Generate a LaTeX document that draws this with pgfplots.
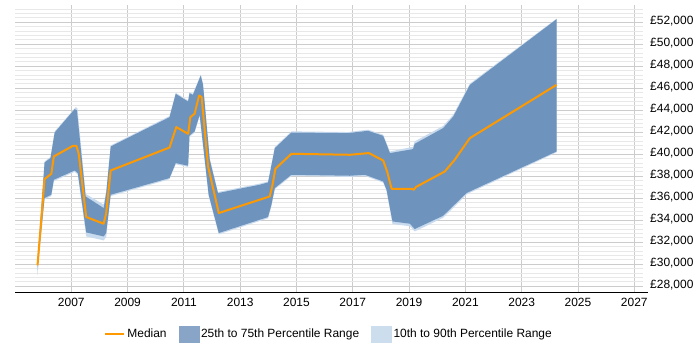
\documentclass[border=0pt]{standalone}
\usepackage{pgfplots}
\pgfplotsset{compat=1.18}
\usepackage{fontspec}
\setmainfont{Liberation Sans}
\definecolor{medorange}{RGB}{255,153,0}
\definecolor{darkband}{RGB}{110,148,189}
\definecolor{lightband}{RGB}{200,218,238}
\definecolor{darkleg}{RGB}{136,165,199}
\definecolor{lightleg}{RGB}{204,221,238}
\definecolor{gridmaj}{RGB}{204,204,204}
\definecolor{gridmin}{RGB}{232,232,232}
\begin{document}
\begin{tikzpicture}
\useasboundingbox (0,0) rectangle (700bp,350bp);
\begin{axis}[
 at={(15bp,57.7bp)}, anchor=south west,
 scale only axis, width=627.7bp, height=287.3bp,
 xmin=2005, xmax=2027.3, ymin=27450, ymax=53570,
 axis x line*=bottom, axis y line*=right,
 y axis line style={draw=none},
 x axis line style={black, line width=1.3bp, -, shorten >=-5bp},
 xtick={2007,2009,...,2027},
 ytick={28000,30000,...,52000},
 minor ytick={28000,28400,...,53200},
 grid=both,
 major grid style={gridmaj, line width=0.8bp},
 minor grid style={gridmin, line width=0.8bp},
 major tick length=0, minor tick length=0,
 scaled x ticks=false, scaled y ticks=false,
 /pgf/number format/assume math mode=true,
 xticklabel style={/pgf/number format/1000 sep={}, font=\fontsize{12}{14}\selectfont, yshift=-2bp},
 yticklabel={£\pgfmathprintnumber[fixed,precision=0,1000 sep={,}]{\tick}},
 yticklabel style={font=\fontsize{12}{14}\selectfont, xshift=4bp, yshift=1.6bp},
 legend style={at={(0.5,-0.145)}, anchor=center, draw=none, fill=none,
   font=\fontsize{12}{14}\selectfont,
   /tikz/every even column/.append style={column sep=10bp}},
 legend columns=3,
 legend cell align=left,
]
% 10th to 90th percentile band: 90th forward, 10th backward
\addplot[fill=lightband, draw=none, forget plot] coordinates {
(2005.78,30050) (2006.05,39350) (2006.26,39750) (2006.41,42080) (2007.16,44290) (2007.22,44150) (2007.51,36400) (2008.15,35420) (2008.24,36600) (2008.40,40800) (2010.49,43470) (2010.71,45590) (2011.15,44890) (2011.20,45650) (2011.32,45500) (2011.60,47250) (2011.68,46400) (2011.92,39600) (2012.21,36570) (2013.69,37330) (2013.99,37530) (2014.23,40650) (2014.82,42080) (2016.83,42020) (2017.54,42230) (2018.08,41780) (2018.32,40250) (2019.14,40680) (2019.20,41170) (2020.21,42570) (2020.57,43600) (2021.16,46420) (2024.24,52330)
(2024.24,40170) (2021.16,36500) (2021.04,36330) (2020.21,34220) (2019.20,32980) (2019.03,33460) (2018.41,33650) (2018.20,36650) (2018.08,37420) (2017.43,38030) (2016.89,37940) (2014.82,38030) (2014.23,36820) (2014.11,35300) (2013.99,34180) (2012.24,32720) (2011.88,36200) (2011.56,43480) (2011.38,41960) (2011.20,41600) (2011.15,38850) (2010.71,39090) (2010.49,37730) (2008.40,36200) (2008.24,32480) (2008.15,32170) (2007.53,32530) (2007.23,38160) (2007.12,38400) (2006.38,37560) (2006.29,36200) (2006.05,35900) (2005.80,28990)} -- cycle;
% 25th to 75th percentile band: 75th forward, 25th backward
\addplot[fill=darkband, draw=none, forget plot] coordinates {
(2005.80,30000) (2006.05,39253) (2006.26,39652) (2006.41,41978) (2007.12,44103) (2007.20,44000) (2007.51,36165) (2008.15,35111) (2008.24,36472) (2008.40,40706) (2010.49,43376) (2010.71,45493) (2011.15,44793) (2011.20,45556) (2011.32,45402) (2011.60,47155) (2011.68,46310) (2011.92,39498) (2012.21,36472) (2013.69,37227) (2013.99,37436) (2014.23,40556) (2014.82,41978) (2016.83,41923) (2017.54,42131) (2018.08,41677) (2018.32,40106) (2019.14,40470) (2019.20,40950) (2020.21,42377) (2020.57,43431) (2021.16,46310) (2024.24,52277)
(2024.24,40252) (2021.16,36619) (2021.04,36472) (2020.21,34407) (2019.20,33204) (2019.03,33685) (2018.41,33894) (2018.20,36770) (2018.08,37527) (2017.43,38136) (2016.89,38045) (2014.82,38136) (2014.23,36927) (2014.11,35410) (2013.99,34293) (2012.24,32840) (2011.88,36320) (2011.56,43585) (2011.38,42068) (2011.20,41707) (2011.15,38953) (2010.71,39198) (2010.49,37836) (2008.40,36320) (2008.24,32840) (2008.15,32531) (2007.53,32895) (2007.23,38290) (2007.12,38526) (2006.38,37682) (2006.29,36320) (2006.05,36020) (2005.80,29750)} -- cycle;
% median
\addplot[medorange, line width=2bp, line join=round,
  legend image code/.code={\draw[medorange, line width=2.5bp] (0bp,0bp) -- (19bp,0bp);}] coordinates {
(2005.80,29900) (2006.05,37745) (2006.29,38226) (2006.38,39800) (2007.06,40770) (2007.18,40770) (2007.26,40106) (2007.53,34293) (2008.15,33685) (2008.24,34657) (2008.40,38526) (2010.49,40615) (2010.73,42468) (2011.15,41860) (2011.23,43376) (2011.38,43676) (2011.54,45338) (2011.63,45193) (2011.86,38889) (2012.24,34657) (2014.05,36165) (2014.15,37227) (2014.25,38680) (2014.82,40043) (2016.89,39952) (2017.57,40106) (2018.08,39434) (2018.22,38435) (2018.38,36864) (2019.09,36864) (2019.17,36773) (2019.24,37018) (2020.27,38435) (2020.62,39496) (2021.16,41469) (2024.24,46310)};
\addlegendentry{Median}
\addlegendimage{legend image code/.code={\fill[darkleg] (0bp,-8bp) rectangle (20bp,8bp);}}
\addlegendentry{25th to 75th Percentile Range}
\addlegendimage{legend image code/.code={\fill[lightleg] (0bp,-8bp) rectangle (20bp,8bp);}}
\addlegendentry{10th to 90th Percentile Range}
\end{axis}
\end{tikzpicture}
\end{document}
